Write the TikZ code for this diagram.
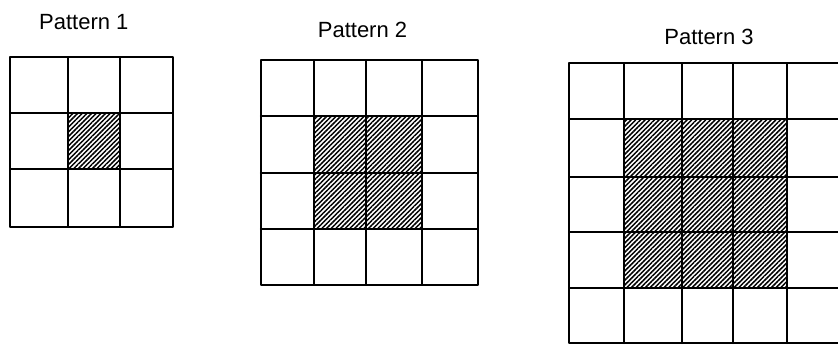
\documentclass[tikz,border=0pt]{standalone}
\usepackage{fontspec}
\setmainfont{Liberation Sans}
\usetikzlibrary{patterns.meta}
\begin{document}
\begin{tikzpicture}[x=1pt,y=-1pt,
  gridline/.style={line width=1.8pt, line cap=round, line join=round},
  hatch/.style={pattern={Lines[angle=45,distance=3.3pt,line width=1.5pt]}},
  title/.style={anchor=base, inner sep=0pt, font=\fontsize{22}{26}\selectfont}]
\useasboundingbox (0,0) rectangle (838,345);
\clip (0,0) rectangle (838,345);
% titles
\node[title] (t1) at (83.8,29.3) {Pattern 1};
\node[title] (t2) at (362.5,37.7) {Pattern 2};
\node[title] (t3) at (709,44.3) {Pattern 3};
% Pattern 1
\fill[hatch] (68,113) rectangle (120,169);
\draw[gridline] (10,57) rectangle (173,227);
\foreach \x in {68,120} \draw[gridline] (\x,57) -- (\x,227);
\foreach \y in {113,169} \draw[gridline] (10,\y) -- (173,\y);
% Pattern 2
\fill[hatch] (314,116) rectangle (421.7,229);
\draw[gridline] (260.7,60) rectangle (478,285);
\foreach \x in {314,366,421.7} \draw[gridline] (\x,60) -- (\x,285);
\foreach \y in {116,172.7,229} \draw[gridline] (260.7,\y) -- (478,\y);
% Pattern 3
\fill[hatch] (624,119.3) rectangle (787.3,288.3);
\draw[gridline] (569,63.3) rectangle (842,343.3);
\foreach \x in {624,682.3,733.3,787.3} \draw[gridline] (\x,63.3) -- (\x,343.3);
\foreach \y in {119.3,176.7,232.3,288.3} \draw[gridline] (569,\y) -- (842,\y);
\end{tikzpicture}
\end{document}
